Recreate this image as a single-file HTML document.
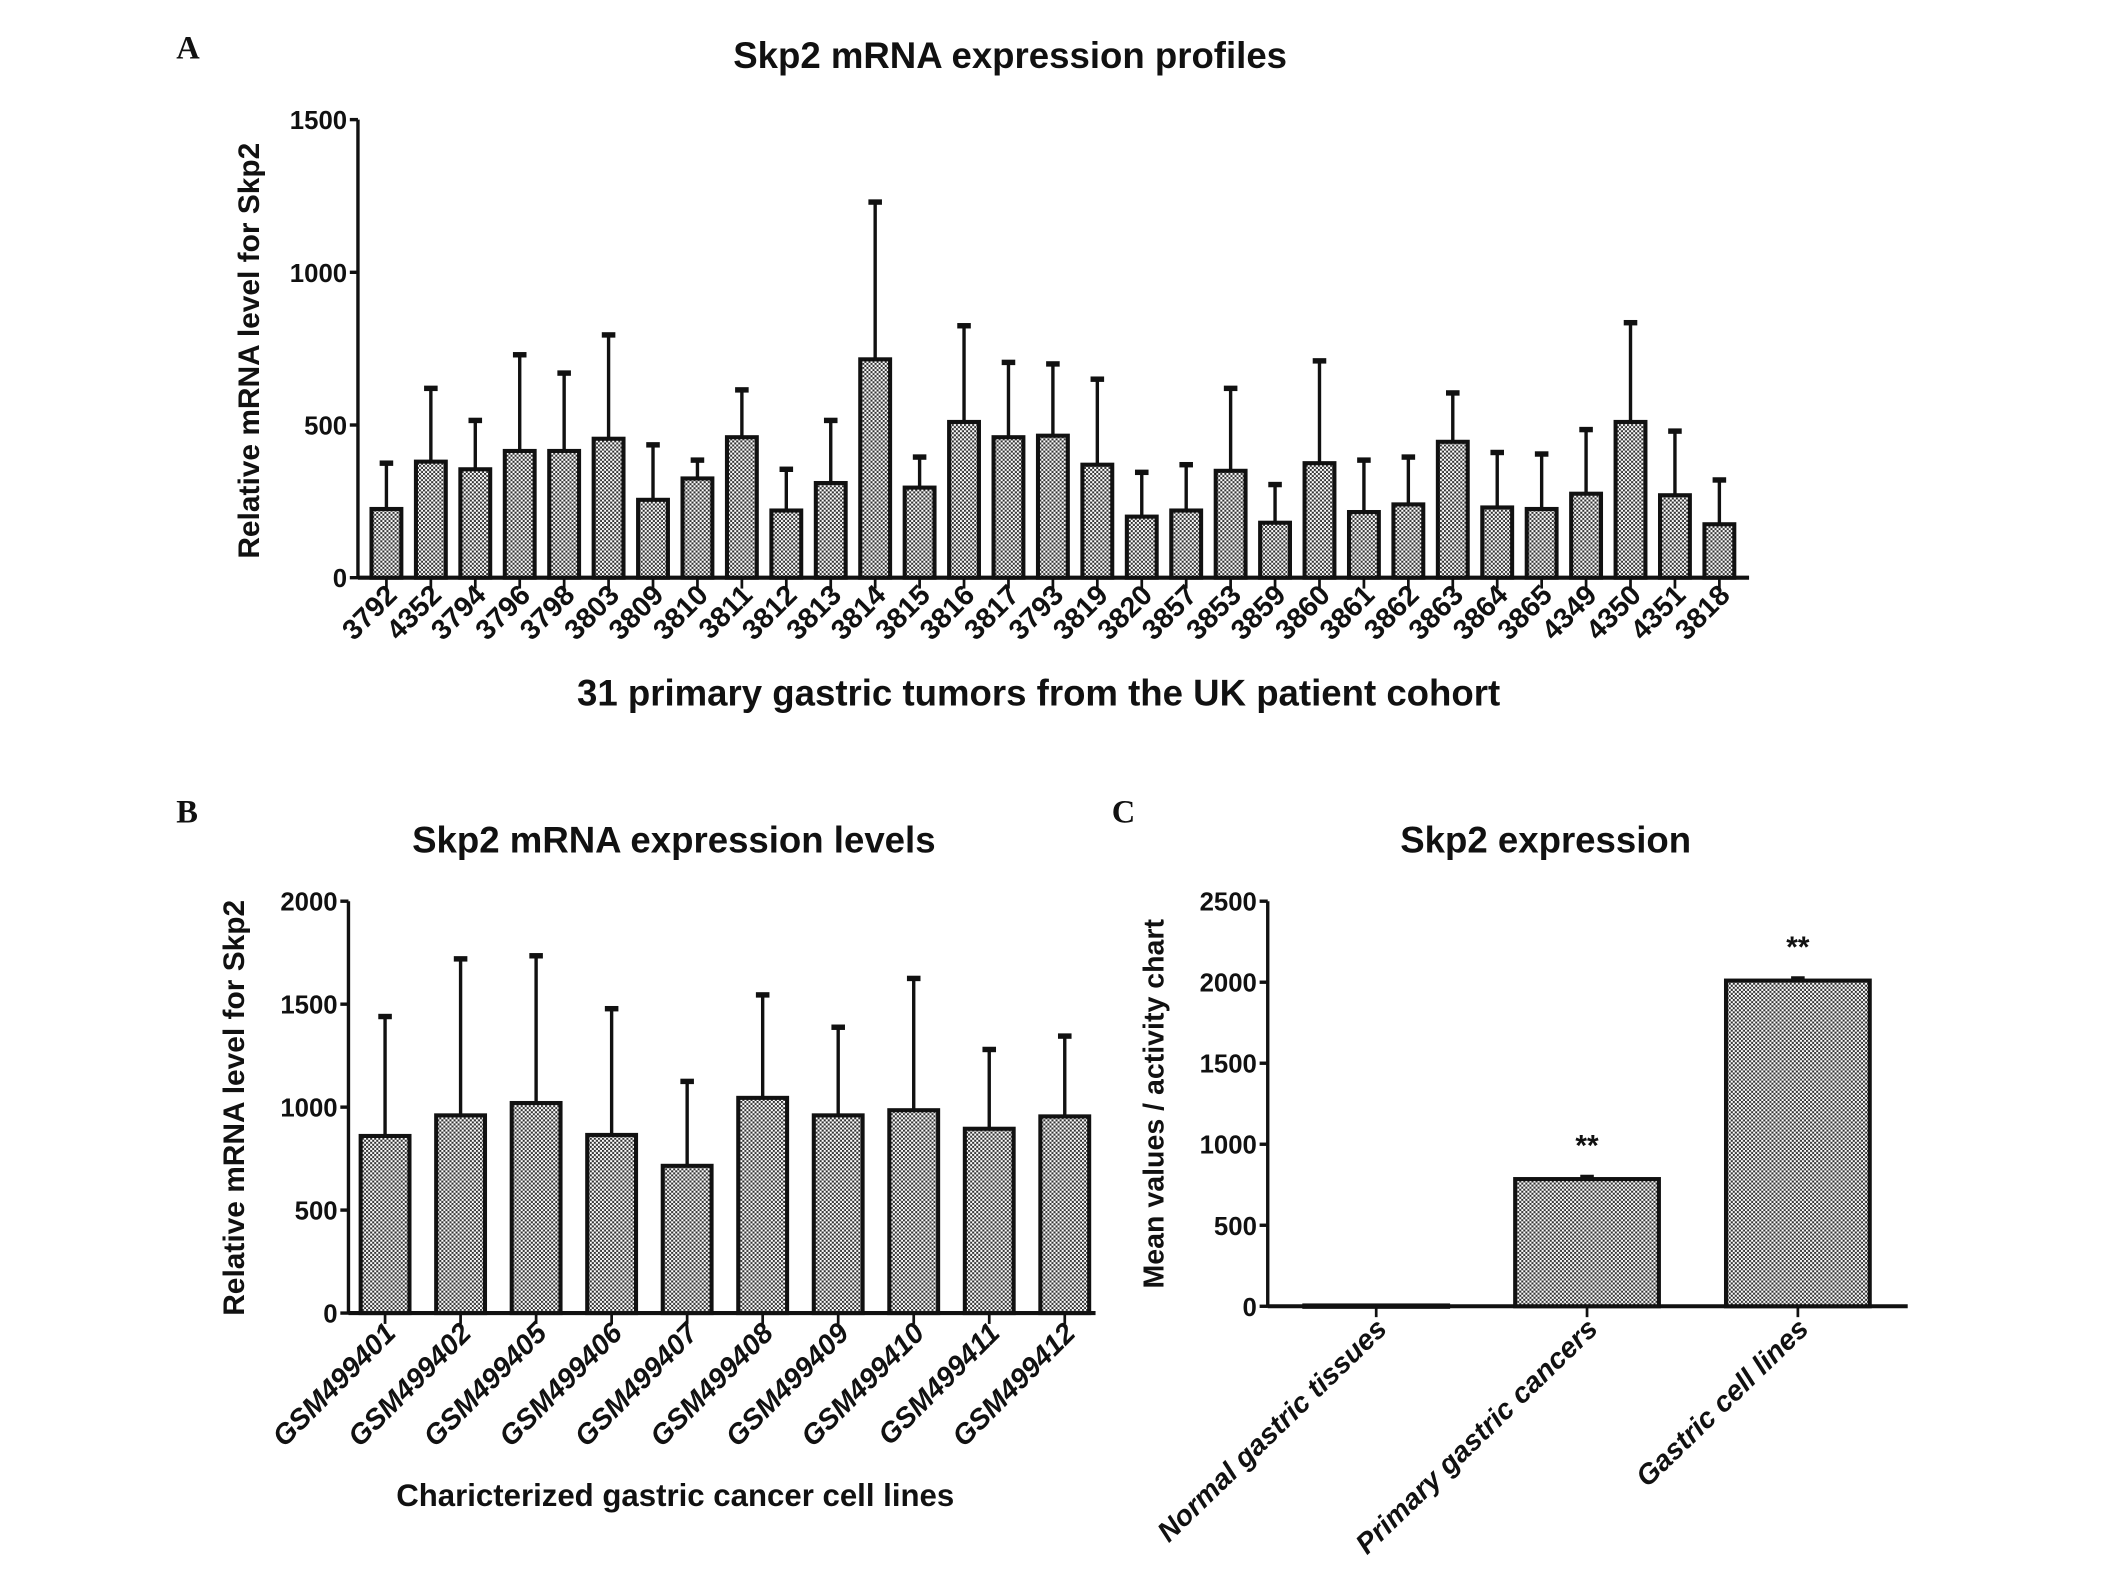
<!DOCTYPE html>
<html><head><meta charset="utf-8"><style>
html,body{margin:0;padding:0;background:#fff}
svg{display:block}
text{font-family:"Liberation Sans",Arial,sans-serif;font-weight:bold;fill:#111}
</style></head><body>
<svg id="fig" width="2126" height="1589" viewBox="0 0 1568 1169" preserveAspectRatio="none">
<defs>
<pattern id="chk" width="3" height="3" patternUnits="userSpaceOnUse">
<rect width="3" height="3" fill="#fff"/><rect width="1.5" height="1.5" fill="#333"/><rect x="1.5" y="1.5" width="1.5" height="1.5" fill="#333"/>
</pattern>
</defs>
<text x="130" y="43" style="font-family:'Liberation Serif',serif" font-size="24">A</text>
<text x="130" y="605" style="font-family:'Liberation Serif',serif" font-size="24">B</text>
<text x="820" y="605" style="font-family:'Liberation Serif',serif" font-size="24">C</text>
<g id="pa"></g>
<g id="pb"></g>
<g id="pc"></g>
</svg>
<script>
const aCats=["3792","4352","3794","3796","3798","3803","3809","3810","3811","3812","3813","3814","3815","3816","3817","3793","3819","3820","3857","3853","3859","3860","3861","3862","3863","3864","3865","4349","4350","4351","3818"];
const aMeans=[225,380,355,415,415,455,255,325,460,220,310,715,295,510,460,465,370,200,220,350,180,375,215,240,445,230,225,275,510,270,175];
const aErrTop=[375,620,515,730,670,795,435,385,615,355,515,1230,395,825,705,700,650,345,370,620,305,710,385,395,605,410,405,485,835,480,320];
const aTicks=[0,500,1000,1500];
const bCats=["GSM499401","GSM499402","GSM499405","GSM499406","GSM499407","GSM499408","GSM499409","GSM499410","GSM499411","GSM499412"];
const bMeans=[860,960,1020,865,715,1045,960,985,895,955];
const bErrTop=[1440,1720,1735,1478,1125,1545,1388,1625,1280,1345];
const bTicks=[0,500,1000,1500,2000];
const cCats=["Normal gastric tissues","Primary gastric cancers","Gastric cell lines"];
const cMeans=[5,785,2010];
const cErrTop=[5,795,2020];
const cStars=["","**","**"];
const cTicks=[0,500,1000,1500,2000,2500];
const NS="http://www.w3.org/2000/svg";
function mk(p,tag,at,txt){const e=document.createElementNS(NS,tag);for(const k in at)e.setAttribute(k,at[k]);if(txt!==undefined)e.textContent=txt;p.appendChild(e);return e;}
function panel(g,o){
 const y=v=>o.y0-(v/o.max)*(o.y0-o.y1);
 const x=i=>o.xs+i*o.step;
 let t=mk(g,'text',{x:o.tx,y:o.ty,'font-size':o.tfs,'text-anchor':'middle'},o.title);
 
 let ax=mk(g,'line',{x1:o.ax,y1:y(o.max),x2:o.ax,y2:o.y0+1,stroke:'#111','stroke-width':2.5});
 
 let xa=mk(g,'line',{x1:o.ax,y1:o.y0,x2:o.xe,y2:o.y0,stroke:'#111','stroke-width':3});
 
 o.ticks.forEach(v=>{
  mk(g,'line',{x1:o.ax-6,y1:y(v),x2:o.ax,y2:y(v),stroke:'#111','stroke-width':2.5});
  let l=mk(g,'text',{x:o.ax-8,y:y(v)+7,'font-size':19,'text-anchor':'end'},v);
  
 });
 let yt=mk(g,'text',{x:0,y:0,'font-size':o.yfs,'text-anchor':'middle',transform:`translate(${o.ytx},${o.yty}) rotate(-90)`},o.ytitle);
 
 let xt=mk(g,'text',{x:o.xtx,y:o.xty,'font-size':o.xfs,'text-anchor':'middle'},o.xtitle);
 
 o.cats.forEach((c,i)=>{
  const cx=x(i),m=o.means[i],e=o.err[i];
  mk(g,'line',{x1:cx,y1:o.y0,x2:cx,y2:o.y0+8,stroke:'#111','stroke-width':2});
  if(e>m){
   let el=mk(g,'line',{x1:cx,y1:y(m),x2:cx,y2:y(e),stroke:'#111','stroke-width':2.5});
   
   mk(g,'line',{x1:cx-5,y1:y(e),x2:cx+5,y2:y(e),stroke:'#111','stroke-width':4});
  }
  let b=mk(g,'rect',{x:cx-o.bw/2,y:y(m),width:o.bw,height:Math.max(1,o.y0-y(m)),fill:'url(#chk)',stroke:'#111','stroke-width':3});
  
  let l=mk(g,'text',{x:0,y:0,'font-size':o.lfs,'font-style':o.ital?'italic':'normal','text-anchor':'end',transform:`translate(${cx+o.lox},${o.y0+o.loy}) rotate(${o.rot})`},c);
  
  if(o.stars&&o.stars[i]){let s=mk(g,'text',{x:cx,y:y(e)-16,'font-size':22,'text-anchor':'middle'},o.stars[i]);
   }
 });
}
panel(document.getElementById('pa'),{cats:aCats,means:aMeans,err:aErrTop,ticks:aTicks,max:1500,y0:425,y1:88,ax:264,xe:1290,xs:285,step:32.77,bw:22,
 title:"Skp2 mRNA expression profiles",tx:745,ty:50,tfs:27,ytitle:"Relative mRNA level for Skp2",ytx:191,yty:258,yfs:22,
 xtitle:"31 primary gastric tumors from the UK patient cohort",xtx:766,xty:519,xfs:27,lfs:21,lox:9,loy:14,rot:-45});
panel(document.getElementById('pb'),{cats:bCats,means:bMeans,err:bErrTop,ticks:bTicks,max:2000,y0:966,y1:663,ax:257,xe:808,xs:284,step:55.7,bw:36,
 title:"Skp2 mRNA expression levels",tx:497,ty:627,tfs:27,ytitle:"Relative mRNA level for Skp2",ytx:180,yty:815,yfs:22,
 xtitle:"Charicterized gastric cancer cell lines",xtx:498,xty:1108,xfs:23,lfs:21,ital:true,lox:9,loy:16,rot:-45});
panel(document.getElementById('pc'),{cats:cCats,means:cMeans,err:cErrTop,ticks:cTicks,max:2500,y0:961,y1:663,ax:935,xe:1407,xs:1015,step:155.5,bw:106,stars:cStars,
 title:"Skp2 expression",tx:1140,ty:627,tfs:27,ytitle:"Mean values / activity chart",ytx:858,yty:812,yfs:21,
 xtitle:"",xtx:0,xty:0,xfs:1,lfs:21,ital:true,lox:9,loy:18,rot:-44});
</script>
</body></html>
